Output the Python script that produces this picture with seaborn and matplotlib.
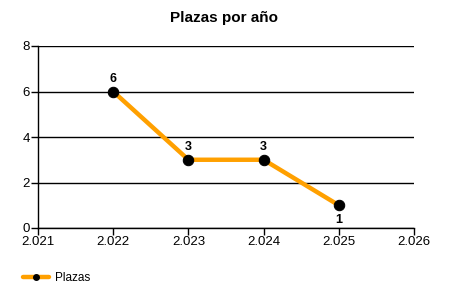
import matplotlib
matplotlib.use("Agg")
import matplotlib.pyplot as plt
import seaborn as sns
import pandas as pd
from matplotlib.ticker import FuncFormatter, MultipleLocator
from matplotlib.lines import Line2D

years = [2022, 2023, 2024, 2025]
plazas = [6, 3, 3, 1]
title = "Plazas por año"
series_name = "Plazas"

sns.set_theme(style="white")
plt.rcParams['font.family'] = ['Liberation Sans', 'DejaVu Sans']
plt.rcParams['text.color'] = 'black'
plt.rcParams['xtick.color'] = 'black'
plt.rcParams['ytick.color'] = 'black'

df = pd.DataFrame({"year": years, "value": plazas})

fig = plt.figure(figsize=(4.5, 3.0), dpi=100)
ax = fig.add_axes([38/450, 1-228/300, (414-38)/450, (228-46)/300])

sns.lineplot(data=df, x="year", y="value", ax=ax, color="#FFA000", linewidth=3.2,
             marker="o", markersize=7.5, markerfacecolor="black", markeredgecolor="black",
             label=series_name, legend=False)

ax.set_xlim(2021, 2026)
ax.set_ylim(0, 8)
ax.xaxis.set_major_locator(MultipleLocator(1))
ax.yaxis.set_major_locator(MultipleLocator(2))
ax.xaxis.set_major_formatter(FuncFormatter(lambda v, p: f"{v/1000:.3f}"))
ax.yaxis.set_major_formatter(FuncFormatter(lambda v, p: f"{int(v)}"))
ax.grid(axis="y", color="black", linewidth=1)
ax.grid(axis="x", visible=False)
for s in ["top", "right"]:
    ax.spines[s].set_visible(False)
for s in ["left", "bottom"]:
    ax.spines[s].set_color("black")
    ax.spines[s].set_linewidth(1)
ax.tick_params(axis="both", which="major", length=5, width=1, color="black",
               labelsize=9.5, pad=1, labelcolor="black", bottom=True, left=True)
ax.set_xlabel("")
ax.set_ylabel("")

for x, y in zip(years, plazas):
    if y == min(plazas):
        ax.annotate(str(y), (x, y), xytext=(0, -6), textcoords="offset points",
                    ha="center", va="top", fontsize=9, fontweight="bold", color="black")
    else:
        ax.annotate(str(y), (x, y), xytext=(0, 5), textcoords="offset points",
                    ha="center", va="bottom", fontsize=9, fontweight="bold", color="black")

fig.text(224/450, 1-18/300, title, ha="center", va="center", fontsize=11,
         fontweight="bold", color="black")

h = Line2D([0], [0], color="#FFA000", linewidth=3.2, marker="o", markersize=4,
           markerfacecolor="black", markeredgecolor="black")
fig.legend([h], [series_name], loc="center left", bbox_to_anchor=(12/450, 1-278/300),
           frameon=False, fontsize=8.5, handlelength=2.2, handletextpad=0.5,
           labelcolor="black")

fig.savefig("out.png", dpi=100)
